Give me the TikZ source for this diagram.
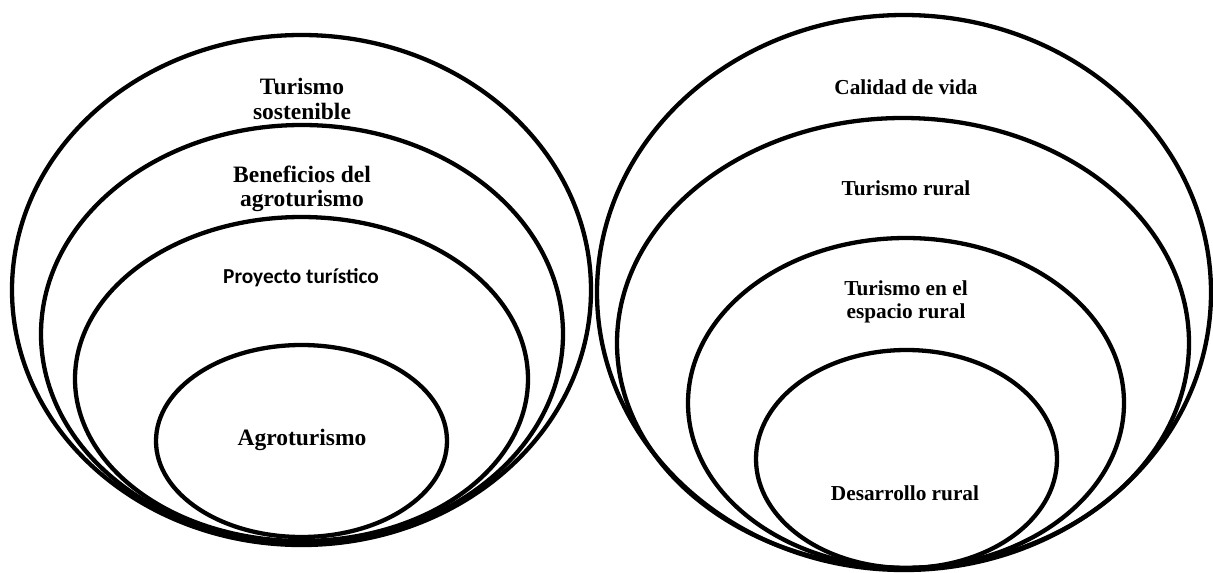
\documentclass[tikz,border=0pt]{standalone}
\usepackage{fontspec}
\setmainfont{Liberation Serif}
\newfontfamily\calibfont{Carlito}
\begin{document}
\begin{tikzpicture}[x=1pt,y=-1pt,
  ring/.style={draw=black,line width=4.3pt},
  lbl/.style={font=\fontsize{21.3}{22.5}\selectfont\bfseries,align=center,inner sep=0pt},
  lblbig/.style={font=\fontsize{23.5}{24.5}\selectfont\bfseries,align=center,inner sep=0pt},
  lblsans/.style={font=\calibfont\fontsize{21.3}{24}\selectfont\bfseries,align=center,inner sep=0pt}]
\useasboundingbox (0,0) rectangle (1213,573);
% left group
\draw[ring] (301.5,290) ellipse [x radius=289.5,y radius=255];
\draw[ring] (302,334) ellipse [x radius=261,y radius=209];
\draw[ring] (301.5,379) ellipse [x radius=226.5,y radius=162];
\draw[ring] (301.5,441) ellipse [x radius=145.5,y radius=96];
\node[lblbig] (ts) at (302,99) {Turismo\\sostenible};
\node[lblbig] (ba) at (302,189) {Beneficios del\\agroturismo};
\node[lblsans] (pt) at (301,278) {Proyecto turístico};
\node[lblbig] (ag) at (302,440) {Agroturismo};
% right group
\draw[ring] (904,292.5) ellipse [x radius=307,y radius=277.5];
\draw[ring] (903,343) ellipse [x radius=286,y radius=225];
\draw[ring] (906,403) ellipse [x radius=218,y radius=165];
\draw[ring] (906.5,459) ellipse [x radius=150.5,y radius=109];
\node[lbl] (cv) at (906,87) {Calidad de vida};
\node[lbl] (tr) at (906,188) {Turismo rural};
\node[lbl] (te) at (906,302) {Turismo en el\\espacio rural};
\node[lbl] (dr) at (905,493) {Desarrollo rural};
\end{tikzpicture}
\end{document}
